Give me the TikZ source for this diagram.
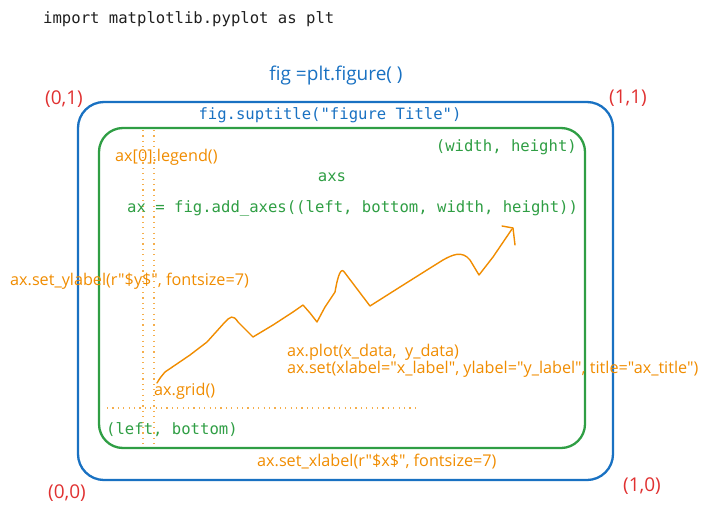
\documentclass[tikz,border=0pt]{standalone}
\usepackage{fontspec}
\setmainfont{Open Sans}
\setmonofont{DejaVu Sans Mono}
\newfontfamily\osans{Open Sans}
\definecolor{cblue}{HTML}{1971C2}
\definecolor{cgreen}{HTML}{2F9E44}
\definecolor{corange}{HTML}{F08C00}
\definecolor{cred}{HTML}{E03131}
\definecolor{cblack}{HTML}{1E1E1E}
\tikzset{
  mono/.style={font=\fontsize{15.6}{18}\selectfont\ttfamily, inner sep=0pt},
  sans/.style={font=\fontsize{16.2}{19}\selectfont\osans, inner sep=0pt, text=corange},
  corner/.style={font=\fontsize{19}{22}\selectfont, inner sep=0pt, text=cred},
  grid line/.style={corange!70, line width=1.2pt, dash pattern=on 1.2pt off 4.2pt},
}
\begin{document}
\begin{tikzpicture}[x=1pt,y=-1pt]
\useasboundingbox (0,0) rectangle (708,516);
% frames
\draw[cblue, line width=2.3pt, rounded corners=26pt] (78,102) rectangle (613,480);
\draw[cgreen, line width=2.3pt, rounded corners=24pt] (99,128) rectangle (585,448);
% dotted grid lines
\coordinate (v1t) at (143,130); \coordinate (v1b) at (143,446);
\coordinate (v2t) at (154,130); \coordinate (v2b) at (154,446);
\coordinate (hl) at (107,408); \coordinate (hr) at (415,408);
\draw[grid line] (v1t) -- (v1b);
\draw[grid line] (v2t) -- (v2b);
\draw[grid line] (hl) -- (hr);
% curve
\draw[corange, line width=1.4pt, line join=round, line cap=round]
 (157,383) .. controls (160,378) .. (165,372) -- (190,355) -- (207,342) -- (225,322)
 .. controls (230,317) and (233,314) .. (238,322) -- (253,337) -- (273,325) -- (293,312)
 -- (303,305) -- (310,313) -- (317,322) -- (325,307) -- (335,292)
 .. controls (338,275) and (341,266) .. (345,273) -- (370,306) -- (400,287) -- (427,270)
 -- (443,260) .. controls (452,255) and (462,250) .. (470,260) -- (479,275) -- (493,257) -- (512,229);
\draw[corange, line width=1.4pt, line cap=round, line join=round]
 (502,226) -- (513,228) -- (515,245);
% texts
\node[mono, text=cblack, anchor=west] (imp) at (43,19) {import matplotlib.pyplot as plt};
\node[font=\fontsize{19}{22}\selectfont, text=cblue, inner sep=0pt] (fig) at (336,76) {fig =plt.figure( )};
\node[mono, text=cblue] (sup) at (330,115) {fig.suptitle("figure Title")};
\node[corner] (c01) at (64,99) {(0,1)};
\node[corner] (c11) at (628,98) {(1,1)};
\node[corner] (c00) at (67,493) {(0,0)};
\node[corner] (c10) at (642,486) {(1,0)};
\node[mono, text=cgreen, anchor=east] (wh) at (577,147) {(width, height)};
\node[mono, text=cgreen] (axs) at (332,177) {axs};
\node[mono, text=cgreen, anchor=west] (add) at (127,208) {ax = fig.add\_axes((left, bottom, width, height))};
\node[mono, text=cgreen, anchor=west] (lb) at (106,430) {(left, bottom)};
\node[sans, anchor=west] (leg) at (115,157) {ax[0].legend()};
\node[sans, anchor=west] (ylab) at (10,281) {ax.set\_ylabel(r"\$y\$", fontsize=7)};
\node[sans, anchor=west] (grid) at (154,391) {ax.grid()};
\node[sans, anchor=west] (plot) at (287,352) {ax.plot(x\_data,\ \ y\_data)};
\node[sans, anchor=west] (set) at (287,369) {ax.set(xlabel="x\_label", ylabel="y\_label", title="ax\_title")};
\node[sans, anchor=west] (xlab) at (257,462) {ax.set\_xlabel(r"\$x\$", fontsize=7)};
\end{tikzpicture}
\end{document}
